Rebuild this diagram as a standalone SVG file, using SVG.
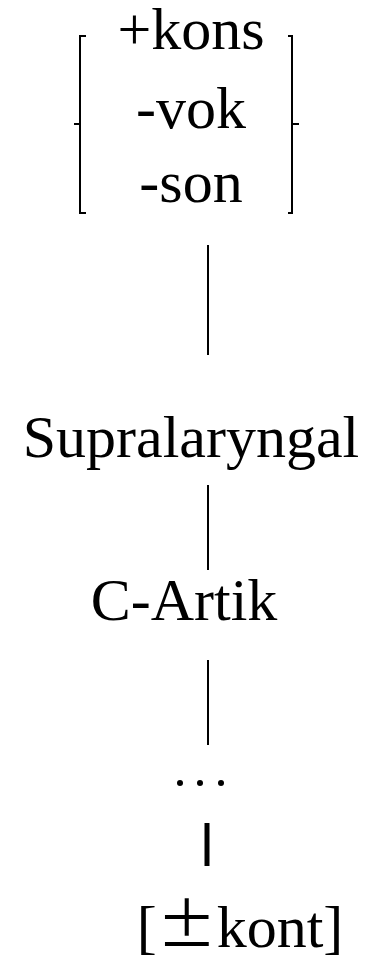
<svg xmlns="http://www.w3.org/2000/svg" width="371" height="958" viewBox="0 0 371 958">
<style>
.t{font-family:"Liberation Serif","Times New Roman",serif;font-size:60px;fill:#000;text-anchor:middle}
.br{fill:none;stroke:#000;stroke-width:2}
.ln{stroke:#000;stroke-width:2;fill:none}
</style>
<rect width="371" height="958" fill="#fff"/>
<g id="features">
<path class="br" d="M86,36 H80 V213 H86 M80,124 H74"/>
<path class="br" d="M288,36 H292 V213 H288 M292,124 H299"/>
<text class="t" x="191" y="49">+kons</text>
<text class="t" x="191" y="128">-vok</text>
<text class="t" x="191" y="202">-son</text>
</g>
<g id="supralaryngal"><text class="t" x="191" y="457">Supralaryngal</text></g>
<g id="c-artik"><text class="t" x="184" y="620">C-Artik</text></g>
<g id="ellipsis">
<circle cx="180" cy="783" r="3"/><circle cx="200" cy="783" r="3"/><circle cx="221" cy="783" r="3"/>
</g>
<g id="kont"><text class="t" x="240" y="947">[<tspan font-family="'Noto Sans CJK SC',sans-serif">±</tspan>kont]</text></g>
<g id="connectors">
<line class="ln" x1="208" y1="245" x2="208" y2="355"/>
<line class="ln" x1="208" y1="485" x2="208" y2="570"/>
<line class="ln" x1="208" y1="660" x2="208" y2="745"/>
<line x1="207" y1="823" x2="207" y2="866" stroke="#000" stroke-width="5"/>
</g>
</svg>
